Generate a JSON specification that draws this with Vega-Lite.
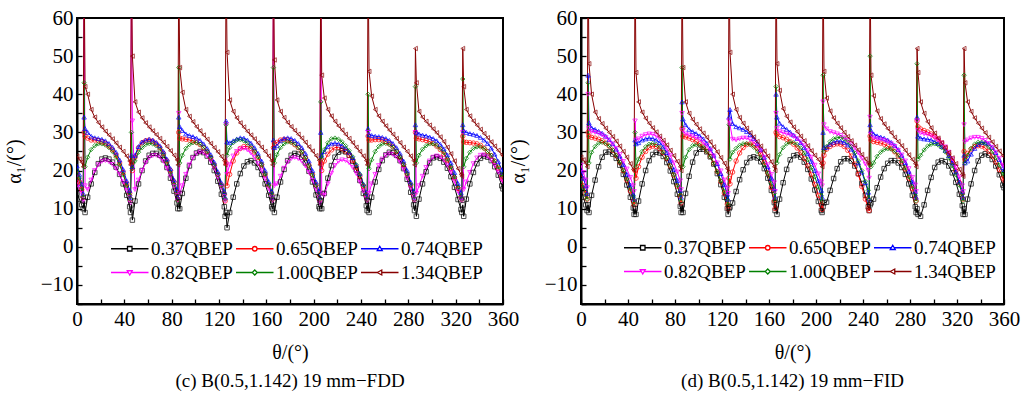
{
"$schema": "https://vega.github.io/schema/vega-lite/v6.json",
"background": "white",
"padding": {"left": 3, "top": 6, "right": 0, "bottom": 0},
"bounds": "flush",
"spacing": 78,
"datasets": {
"keys": [{"k":"a","sh":"A"},{"k":"b","sh":"B"},{"k":"c","sh":"C"},{"k":"d","sh":"D"},{"k":"e","sh":"E"},{"k":"f","sh":"F"}],
"fdd": [
{"t":0,"a":14,"b":19,"c":21.2,"d":17,"e":20,"f":23.8},
{"t":2,"a":12.5,"b":17,"c":19,"d":15.5,"e":18,"f":23},
{"t":4,"a":11,"b":15,"c":16.5,"d":14,"e":15.5,"f":22.2},
{"t":5.2,"a":10,"b":13,"c":14,"d":12,"e":13,"f":21},
{"t":6,"a":12,"b":30,"c":34,"d":75,"e":43,"f":75},
{"t":6.8,"a":9,"b":29,"c":31,"d":16,"e":21,"f":42},
{"t":9,"a":13,"b":28.5,"c":30,"d":15,"e":23.5,"f":40},
{"t":12,"a":16.5,"b":28,"c":29,"d":17.5,"e":25.5,"f":36},
{"t":15,"a":19.5,"b":28,"c":28.6,"d":20,"e":26.5,"f":34},
{"t":18,"a":21.8,"b":27.8,"c":28.4,"d":21.5,"e":27,"f":32.6},
{"t":21,"a":23,"b":27.5,"c":28.2,"d":22.4,"e":27,"f":31.4},
{"t":24,"a":23.3,"b":27.1,"c":27.8,"d":22.6,"e":26.7,"f":30.3},
{"t":27,"a":23,"b":26.4,"c":27.1,"d":22.3,"e":26,"f":29.3},
{"t":30,"a":22.2,"b":25.4,"c":26.1,"d":21.6,"e":25,"f":28.3},
{"t":33,"a":20.9,"b":24,"c":24.8,"d":20.5,"e":23.5,"f":27.2},
{"t":36,"a":19,"b":22,"c":22.8,"d":19,"e":21.5,"f":26.1},
{"t":39,"a":16.5,"b":19.5,"c":20.3,"d":17,"e":19,"f":25},
{"t":42,"a":13.5,"b":16.5,"c":17.3,"d":14.8,"e":16,"f":23.8},
{"t":44.5,"a":10.5,"b":14,"c":14.8,"d":13,"e":13.5,"f":22.5},
{"t":45.2,"a":9,"b":12.5,"c":13,"d":11.5,"e":12.5,"f":21.5},
{"t":46,"a":11,"b":22,"c":24,"d":75,"e":30,"f":75},
{"t":46.8,"a":7,"b":20,"c":21,"d":33,"e":20.5,"f":50},
{"t":49,"a":12,"b":23.5,"c":24,"d":15,"e":22.5,"f":38},
{"t":52,"a":16.5,"b":26,"c":26.3,"d":17.5,"e":24.8,"f":35.3},
{"t":55,"a":20,"b":27.3,"c":27.5,"d":20,"e":26,"f":33.8},
{"t":58,"a":22.5,"b":27.8,"c":28,"d":22,"e":26.8,"f":32.5},
{"t":61,"a":24,"b":28,"c":28.2,"d":23.3,"e":27.1,"f":31.4},
{"t":64,"a":24.5,"b":27.7,"c":28,"d":23.9,"e":27,"f":30.4},
{"t":67,"a":24.5,"b":27,"c":27.4,"d":24,"e":26.5,"f":29.4},
{"t":70,"a":24,"b":26,"c":26.5,"d":23.5,"e":25.6,"f":28.4},
{"t":73,"a":22.8,"b":24.5,"c":25,"d":22.4,"e":24.1,"f":27.4},
{"t":76,"a":20.8,"b":22.5,"c":23,"d":20.6,"e":22,"f":26.3},
{"t":79,"a":18,"b":20,"c":20.5,"d":18.4,"e":19.4,"f":25.2},
{"t":82,"a":14.6,"b":17,"c":17.5,"d":15.8,"e":16.4,"f":24},
{"t":84.5,"a":11.5,"b":14.3,"c":15,"d":13.5,"e":14,"f":22.8},
{"t":85.2,"a":10,"b":12.5,"c":13,"d":12,"e":12,"f":21.5},
{"t":86,"a":13,"b":30,"c":34,"d":35,"e":47,"f":75},
{"t":86.8,"a":10,"b":28.5,"c":31.5,"d":14,"e":22,"f":47},
{"t":89,"a":14,"b":28.3,"c":30.5,"d":16,"e":24,"f":40.5},
{"t":92,"a":18,"b":28.2,"c":29.6,"d":19,"e":25.8,"f":36},
{"t":95,"a":21.2,"b":28,"c":29.2,"d":21.5,"e":26.8,"f":34.2},
{"t":98,"a":23.4,"b":27.8,"c":28.9,"d":23.3,"e":27.3,"f":32.8},
{"t":101,"a":24.6,"b":27.4,"c":28.5,"d":24.4,"e":27.3,"f":31.5},
{"t":104,"a":25,"b":26.8,"c":27.9,"d":24.8,"e":26.9,"f":30.4},
{"t":107,"a":24.7,"b":26,"c":27,"d":24.6,"e":26.1,"f":29.3},
{"t":110,"a":23.8,"b":24.9,"c":25.8,"d":23.8,"e":25,"f":28.2},
{"t":113,"a":22.2,"b":23.4,"c":24.2,"d":22.5,"e":23.5,"f":27.1},
{"t":116,"a":20,"b":21.4,"c":22.2,"d":20.6,"e":21.4,"f":26},
{"t":119,"a":17.2,"b":19,"c":19.7,"d":18.2,"e":18.9,"f":24.9},
{"t":122,"a":13.8,"b":16.2,"c":16.8,"d":15.5,"e":16,"f":23.7},
{"t":124.5,"a":10.5,"b":13.8,"c":14.5,"d":13.2,"e":13.8,"f":22.6},
{"t":125.2,"a":8,"b":12,"c":13,"d":12,"e":12.5,"f":21.5},
{"t":126,"a":9,"b":22,"c":33,"d":32,"e":32,"f":75},
{"t":126.8,"a":5,"b":16,"c":27.5,"d":19,"e":24,"f":51},
{"t":129,"a":9,"b":19,"c":27.3,"d":21.5,"e":26,"f":38.5},
{"t":132,"a":13,"b":22.5,"c":27.8,"d":23.8,"e":27.3,"f":35.5},
{"t":135,"a":16.5,"b":24.6,"c":28.3,"d":25,"e":28,"f":33.8},
{"t":138,"a":19.2,"b":25.8,"c":28.6,"d":25.6,"e":28.1,"f":32.5},
{"t":141,"a":21.2,"b":26.3,"c":28.5,"d":25.8,"e":27.8,"f":31.4},
{"t":144,"a":22.3,"b":26.3,"c":28,"d":25.4,"e":27.2,"f":30.3},
{"t":147,"a":22.6,"b":25.8,"c":27.2,"d":24.6,"e":26.3,"f":29.3},
{"t":150,"a":22,"b":24.8,"c":26,"d":23.4,"e":25.1,"f":28.3},
{"t":153,"a":20.8,"b":23.4,"c":24.5,"d":21.8,"e":23.6,"f":27.2},
{"t":156,"a":19,"b":21.5,"c":22.5,"d":20,"e":21.6,"f":26.1},
{"t":159,"a":16.5,"b":19,"c":20,"d":17.8,"e":19.1,"f":25},
{"t":162,"a":13.5,"b":16.2,"c":17.1,"d":15.2,"e":16.2,"f":23.8},
{"t":164.5,"a":10.5,"b":13.8,"c":14.6,"d":13,"e":13.8,"f":22.6},
{"t":165.2,"a":10,"b":12.5,"c":13,"d":12,"e":12.5,"f":21.5},
{"t":166,"a":12,"b":26,"c":28,"d":75,"e":47,"f":75},
{"t":166.8,"a":9,"b":27,"c":26,"d":16,"e":22,"f":49},
{"t":169,"a":13,"b":27.4,"c":26.5,"d":16.5,"e":24.2,"f":38.5},
{"t":172,"a":17,"b":28,"c":27.8,"d":18.5,"e":26,"f":35.5},
{"t":175,"a":20.3,"b":28.2,"c":28.4,"d":20.6,"e":27,"f":33.9},
{"t":178,"a":22.6,"b":28,"c":28.6,"d":22.2,"e":27.5,"f":32.6},
{"t":181,"a":24,"b":27.5,"c":28.4,"d":23.1,"e":27.4,"f":31.5},
{"t":184,"a":24.5,"b":26.8,"c":27.9,"d":23.4,"e":26.9,"f":30.5},
{"t":187,"a":24.3,"b":26,"c":27.1,"d":23.1,"e":26,"f":29.5},
{"t":190,"a":23.5,"b":24.9,"c":26,"d":22.4,"e":24.9,"f":28.5},
{"t":193,"a":22,"b":23.4,"c":24.5,"d":21.2,"e":23.4,"f":27.4},
{"t":196,"a":19.8,"b":21.4,"c":22.5,"d":19.5,"e":21.3,"f":26.2},
{"t":199,"a":17,"b":19,"c":20,"d":17.4,"e":18.8,"f":25.1},
{"t":202,"a":13.6,"b":16.2,"c":17,"d":15,"e":16,"f":23.9},
{"t":204.5,"a":10.5,"b":13.8,"c":14.6,"d":13,"e":13.7,"f":22.7},
{"t":205.2,"a":10,"b":12.5,"c":13,"d":11.5,"e":12.5,"f":21.5},
{"t":206,"a":12,"b":22,"c":30,"d":75,"e":38,"f":75},
{"t":206.8,"a":10,"b":20,"c":24,"d":14,"e":23,"f":45},
{"t":209,"a":14,"b":22.5,"c":25,"d":13.5,"e":25.5,"f":39},
{"t":212,"a":18,"b":24.3,"c":26.3,"d":16.5,"e":27.3,"f":36},
{"t":215,"a":21.3,"b":25.4,"c":27,"d":19.3,"e":28.3,"f":34.3},
{"t":218,"a":23.5,"b":26,"c":27.2,"d":21.3,"e":28.5,"f":32.9},
{"t":221,"a":24.8,"b":26.1,"c":27,"d":22.4,"e":28.2,"f":31.7},
{"t":224,"a":25.2,"b":25.7,"c":26.5,"d":22.8,"e":27.5,"f":30.6},
{"t":227,"a":24.9,"b":25,"c":25.8,"d":22.6,"e":26.5,"f":29.5},
{"t":230,"a":24,"b":24,"c":24.8,"d":22,"e":25.2,"f":28.4},
{"t":233,"a":22.4,"b":22.6,"c":23.4,"d":20.8,"e":23.6,"f":27.3},
{"t":236,"a":20.2,"b":20.8,"c":21.5,"d":19.2,"e":21.5,"f":26.1},
{"t":239,"a":17.4,"b":18.5,"c":19.2,"d":17,"e":19,"f":25},
{"t":242,"a":14,"b":15.8,"c":16.5,"d":14.6,"e":16.2,"f":23.8},
{"t":244.5,"a":10.8,"b":13.5,"c":14.3,"d":12.8,"e":13.8,"f":22.6},
{"t":245.2,"a":9.5,"b":12.5,"c":13,"d":12,"e":12.5,"f":21.5},
{"t":246,"a":12,"b":29,"c":31,"d":30,"e":40,"f":75},
{"t":246.8,"a":9,"b":28,"c":29.5,"d":14,"e":20.5,"f":46},
{"t":249,"a":13,"b":28,"c":29.2,"d":16.5,"e":22.8,"f":39.5},
{"t":252,"a":17,"b":28.1,"c":29,"d":19,"e":25,"f":36},
{"t":255,"a":20.3,"b":28.1,"c":28.9,"d":21.3,"e":26.3,"f":34.3},
{"t":258,"a":22.6,"b":28,"c":28.7,"d":23,"e":27,"f":32.9},
{"t":261,"a":24.1,"b":27.6,"c":28.4,"d":24,"e":27.1,"f":31.7},
{"t":264,"a":24.8,"b":27,"c":27.9,"d":24.4,"e":26.8,"f":30.6},
{"t":267,"a":24.7,"b":26.2,"c":27.1,"d":24.2,"e":26.1,"f":29.5},
{"t":270,"a":24,"b":25,"c":26,"d":23.5,"e":25.1,"f":28.4},
{"t":273,"a":22.6,"b":23.5,"c":24.5,"d":22.2,"e":23.6,"f":27.3},
{"t":276,"a":20.5,"b":21.5,"c":22.5,"d":20.3,"e":21.6,"f":26.1},
{"t":279,"a":17.7,"b":19,"c":20,"d":18,"e":19.1,"f":25},
{"t":282,"a":14.3,"b":16.2,"c":17,"d":15.4,"e":16.3,"f":23.8},
{"t":284.5,"a":11,"b":13.8,"c":14.6,"d":13.2,"e":14,"f":22.6},
{"t":285.2,"a":9.5,"b":12.5,"c":13,"d":12,"e":12.5,"f":21.5},
{"t":286,"a":11,"b":30,"c":32,"d":30,"e":42,"f":52},
{"t":286.8,"a":8,"b":28.5,"c":30,"d":14,"e":22,"f":43},
{"t":289,"a":12.5,"b":28.3,"c":29.6,"d":16,"e":24,"f":35.5},
{"t":292,"a":16.5,"b":28.1,"c":29.3,"d":18.5,"e":25.6,"f":34},
{"t":295,"a":19.7,"b":27.9,"c":29.1,"d":20.8,"e":26.5,"f":32.9},
{"t":298,"a":22,"b":27.6,"c":28.8,"d":22.5,"e":27,"f":31.9},
{"t":301,"a":23.3,"b":27.1,"c":28.4,"d":23.5,"e":27,"f":30.9},
{"t":304,"a":23.6,"b":26.4,"c":27.8,"d":23.8,"e":26.6,"f":29.9},
{"t":307,"a":23.2,"b":25.5,"c":26.9,"d":23.5,"e":25.8,"f":28.8},
{"t":310,"a":22.2,"b":24.3,"c":25.7,"d":22.7,"e":24.7,"f":27.6},
{"t":313,"a":20.6,"b":22.7,"c":24.1,"d":21.4,"e":23.1,"f":26.1},
{"t":316,"a":18.4,"b":20.6,"c":22,"d":19.5,"e":21,"f":24.4},
{"t":319,"a":15.6,"b":18.1,"c":19.5,"d":17.1,"e":18.4,"f":22.5},
{"t":322,"a":12.4,"b":15.3,"c":16.6,"d":14.5,"e":15.6,"f":20.5},
{"t":324.5,"a":9.8,"b":13,"c":14.2,"d":12.5,"e":13.3,"f":19},
{"t":325.2,"a":9,"b":12.5,"c":13,"d":12,"e":12.5,"f":18.5},
{"t":326,"a":11,"b":29,"c":32,"d":30,"e":44,"f":52},
{"t":326.8,"a":8,"b":27.5,"c":30.5,"d":15,"e":21,"f":42},
{"t":329,"a":12.5,"b":27.4,"c":30,"d":17,"e":23.2,"f":36},
{"t":332,"a":16.5,"b":27.3,"c":29.7,"d":19.5,"e":24.8,"f":34.3},
{"t":335,"a":19.5,"b":27.2,"c":29.5,"d":21.8,"e":25.8,"f":33},
{"t":338,"a":21.8,"b":27,"c":29.2,"d":23.3,"e":26.2,"f":31.9},
{"t":341,"a":23.2,"b":26.6,"c":28.7,"d":24,"e":26.2,"f":30.8},
{"t":344,"a":23.8,"b":25.9,"c":28,"d":24.1,"e":25.8,"f":29.7},
{"t":347,"a":23.5,"b":25,"c":27.1,"d":23.6,"e":25,"f":28.6},
{"t":350,"a":22.6,"b":23.9,"c":25.9,"d":22.7,"e":24,"f":27.5},
{"t":353,"a":21,"b":22.4,"c":24.3,"d":21.3,"e":22.6,"f":26.4},
{"t":356,"a":18.8,"b":20.6,"c":22.4,"d":19.6,"e":21,"f":25.3},
{"t":359,"a":16,"b":18.5,"c":20.2,"d":17.6,"e":19,"f":24.2},
{"t":360,"a":15.2,"b":17.8,"c":19.5,"d":17,"e":18.5,"f":23.9}
],
"fid": [
{"t":0,"a":15,"b":18,"c":20,"d":21.4,"e":17.5,"f":23.5},
{"t":2,"a":13,"b":16,"c":18,"d":19.5,"e":15.5,"f":22.8},
{"t":4,"a":11,"b":14,"c":16,"d":17.5,"e":13.5,"f":22},
{"t":5.2,"a":9.5,"b":12.5,"c":14,"d":15.5,"e":12.5,"f":21},
{"t":6,"a":11,"b":30,"c":45,"d":40,"e":43,"f":75},
{"t":6.8,"a":9,"b":29,"c":32.5,"d":31,"e":22,"f":48},
{"t":9,"a":13.5,"b":28.7,"c":31.2,"d":30.2,"e":24.8,"f":40},
{"t":12,"a":17.5,"b":28.5,"c":30.8,"d":30,"e":26.3,"f":35.3},
{"t":15,"a":21,"b":28.2,"c":30.3,"d":29.7,"e":27.2,"f":33.6},
{"t":18,"a":23.5,"b":27.8,"c":29.8,"d":29.3,"e":27.4,"f":32.3},
{"t":21,"a":24.8,"b":27.2,"c":29,"d":28.7,"e":27.1,"f":31.1},
{"t":24,"a":24.9,"b":26.4,"c":28.1,"d":28,"e":26.4,"f":30},
{"t":27,"a":24.3,"b":25.3,"c":27,"d":27,"e":25.4,"f":28.9},
{"t":30,"a":23.2,"b":23.9,"c":25.6,"d":25.8,"e":24,"f":27.7},
{"t":33,"a":21.4,"b":22.1,"c":23.8,"d":24.2,"e":22.2,"f":26.4},
{"t":36,"a":19,"b":20,"c":21.6,"d":22.4,"e":20.1,"f":25},
{"t":39,"a":16.2,"b":17.5,"c":19,"d":20.4,"e":17.8,"f":23.5},
{"t":42,"a":13,"b":14.6,"c":16.2,"d":18.2,"e":15.2,"f":21.8},
{"t":44.5,"a":10.2,"b":12,"c":13.8,"d":16,"e":13,"f":20.3},
{"t":45.2,"a":8.5,"b":11,"c":12.5,"d":14.5,"e":11.5,"f":20},
{"t":46,"a":10,"b":20,"c":28,"d":33,"e":30,"f":75},
{"t":46.8,"a":8.5,"b":18,"c":27,"d":28,"e":21,"f":45.7},
{"t":49,"a":12,"b":21,"c":27.3,"d":28.3,"e":23,"f":38},
{"t":52,"a":16.5,"b":23.5,"c":28,"d":29,"e":25,"f":35.3},
{"t":55,"a":20,"b":25,"c":28.3,"d":29.4,"e":26.2,"f":33.7},
{"t":58,"a":22.6,"b":26,"c":28.5,"d":29.6,"e":26.9,"f":32.4},
{"t":61,"a":24.2,"b":26.4,"c":28.4,"d":29.5,"e":27.1,"f":31.2},
{"t":64,"a":24.8,"b":26.3,"c":28,"d":29.1,"e":26.8,"f":30.1},
{"t":67,"a":24.6,"b":25.7,"c":27.3,"d":28.3,"e":26.1,"f":29},
{"t":70,"a":23.7,"b":24.7,"c":26.2,"d":27.2,"e":24.9,"f":27.9},
{"t":73,"a":22.1,"b":23.2,"c":24.7,"d":25.7,"e":23.3,"f":26.7},
{"t":76,"a":19.9,"b":21.2,"c":22.7,"d":24,"e":21.3,"f":25.3},
{"t":79,"a":17.1,"b":18.8,"c":20.3,"d":22,"e":18.9,"f":23.9},
{"t":82,"a":13.8,"b":15.9,"c":17.4,"d":19.6,"e":16.1,"f":22.4},
{"t":84.5,"a":10.6,"b":13.3,"c":14.8,"d":17.3,"e":13.6,"f":21},
{"t":85.2,"a":9,"b":11.5,"c":13,"d":15,"e":12,"f":20},
{"t":86,"a":11,"b":31,"c":38,"d":35,"e":47,"f":75},
{"t":86.8,"a":9,"b":29,"c":33.5,"d":30.5,"e":21,"f":47},
{"t":89,"a":14,"b":28.8,"c":32,"d":29.6,"e":23.5,"f":38},
{"t":92,"a":18.5,"b":28.5,"c":30.8,"d":29.3,"e":25.5,"f":35},
{"t":95,"a":22.2,"b":28.1,"c":30.2,"d":29,"e":26.5,"f":33.4},
{"t":98,"a":24.6,"b":27.6,"c":29.7,"d":28.6,"e":26.8,"f":32.1},
{"t":101,"a":25.6,"b":27,"c":29.1,"d":28.1,"e":26.6,"f":30.9},
{"t":104,"a":25.6,"b":26.2,"c":28.3,"d":27.4,"e":26,"f":29.8},
{"t":107,"a":24.9,"b":25.1,"c":27.2,"d":26.5,"e":25,"f":28.7},
{"t":110,"a":23.6,"b":23.7,"c":25.8,"d":25.3,"e":23.6,"f":27.5},
{"t":113,"a":21.7,"b":21.9,"c":24,"d":23.8,"e":21.8,"f":26.2},
{"t":116,"a":19.2,"b":19.7,"c":21.8,"d":22,"e":19.7,"f":24.9},
{"t":119,"a":16.3,"b":17.1,"c":19.2,"d":19.9,"e":17.3,"f":23.4},
{"t":122,"a":13,"b":14.1,"c":16.3,"d":17.5,"e":14.6,"f":21.9},
{"t":124.5,"a":10,"b":11.2,"c":13.8,"d":15.3,"e":12.2,"f":20.5},
{"t":125.2,"a":8.5,"b":10,"c":12.5,"d":14,"e":11,"f":19.5},
{"t":126,"a":10,"b":18,"c":34,"d":33,"e":32,"f":75},
{"t":126.8,"a":10.4,"b":16.5,"c":36,"d":32,"e":23,"f":51},
{"t":129,"a":11.5,"b":19.6,"c":32.3,"d":28.2,"e":24.8,"f":40},
{"t":132,"a":14.5,"b":22.5,"c":31.5,"d":28,"e":25.8,"f":36},
{"t":135,"a":17.6,"b":24.6,"c":31.2,"d":28.3,"e":26.6,"f":33.9},
{"t":138,"a":20.2,"b":26,"c":30.8,"d":28.5,"e":27,"f":32.4},
{"t":141,"a":22.1,"b":26.8,"c":30.2,"d":28.5,"e":27.1,"f":31.1},
{"t":144,"a":23.3,"b":27,"c":29.4,"d":28.1,"e":26.8,"f":29.9},
{"t":147,"a":23.6,"b":26.7,"c":28.4,"d":27.5,"e":26.1,"f":28.8},
{"t":150,"a":23.3,"b":25.8,"c":27.1,"d":26.5,"e":25,"f":27.6},
{"t":153,"a":22.3,"b":24.3,"c":25.5,"d":25.2,"e":23.5,"f":26.4},
{"t":156,"a":20.5,"b":22.2,"c":23.5,"d":23.5,"e":21.6,"f":25.1},
{"t":159,"a":18,"b":19.3,"c":21,"d":21.5,"e":19.3,"f":23.8},
{"t":162,"a":14.8,"b":15.6,"c":18,"d":19,"e":16.6,"f":22.3},
{"t":164.5,"a":11.6,"b":12,"c":15.3,"d":16.8,"e":14,"f":21},
{"t":165.2,"a":9.5,"b":10,"c":13,"d":14.5,"e":12,"f":20},
{"t":166,"a":11,"b":30,"c":40,"d":35,"e":42,"f":75},
{"t":166.8,"a":8.5,"b":29.5,"c":34,"d":31,"e":22,"f":48},
{"t":169,"a":12.5,"b":28.9,"c":32.4,"d":30.2,"e":24.2,"f":41},
{"t":172,"a":16.8,"b":28.6,"c":31.5,"d":29.9,"e":26,"f":36.2},
{"t":175,"a":20.3,"b":28.2,"c":30.8,"d":29.6,"e":27,"f":34.2},
{"t":178,"a":22.8,"b":27.6,"c":30.1,"d":29.3,"e":27.4,"f":32.7},
{"t":181,"a":23.9,"b":26.9,"c":29.3,"d":28.9,"e":27.3,"f":31.4},
{"t":184,"a":24.1,"b":25.9,"c":28.4,"d":28.3,"e":26.8,"f":30.2},
{"t":187,"a":23.5,"b":24.7,"c":27.3,"d":27.5,"e":25.9,"f":29},
{"t":190,"a":22.2,"b":23.2,"c":26,"d":26.5,"e":24.6,"f":27.8},
{"t":193,"a":20.3,"b":21.3,"c":24.4,"d":25.2,"e":22.9,"f":26.5},
{"t":196,"a":17.8,"b":19,"c":22.4,"d":23.5,"e":20.8,"f":25.2},
{"t":199,"a":14.9,"b":16.4,"c":20,"d":21.4,"e":18.4,"f":24},
{"t":202,"a":11.9,"b":13.5,"c":17.3,"d":19.1,"e":15.7,"f":22.9},
{"t":204.5,"a":9.5,"b":11,"c":14.8,"d":17,"e":13.4,"f":21.8},
{"t":205.2,"a":9,"b":9.8,"c":13,"d":16,"e":12,"f":21},
{"t":206,"a":10.5,"b":22,"c":30,"d":38,"e":45,"f":75},
{"t":206.8,"a":11.5,"b":24,"c":26,"d":32,"e":25,"f":46},
{"t":209,"a":11.7,"b":25.6,"c":26.1,"d":30.9,"e":26.3,"f":39},
{"t":212,"a":14.8,"b":26.3,"c":26.9,"d":30.2,"e":27.6,"f":35.6},
{"t":215,"a":17.9,"b":26.8,"c":27.4,"d":29.9,"e":28.3,"f":33.8},
{"t":218,"a":20.5,"b":27,"c":27.7,"d":29.6,"e":28.6,"f":32.4},
{"t":221,"a":22.3,"b":26.9,"c":27.7,"d":29.2,"e":28.7,"f":31.2},
{"t":224,"a":23.1,"b":26.3,"c":27.4,"d":28.6,"e":28.3,"f":30},
{"t":227,"a":23.1,"b":25.3,"c":26.7,"d":27.9,"e":27.5,"f":28.9},
{"t":230,"a":22.5,"b":23.8,"c":25.6,"d":27,"e":26.3,"f":27.8},
{"t":233,"a":21.2,"b":21.7,"c":24,"d":25.9,"e":24.6,"f":26.6},
{"t":236,"a":19.2,"b":19,"c":22,"d":24.6,"e":22.5,"f":25.4},
{"t":239,"a":16.6,"b":15.8,"c":19.6,"d":23.2,"e":20,"f":24.2},
{"t":242,"a":13.5,"b":12.5,"c":16.8,"d":21.7,"e":17.2,"f":23},
{"t":244.5,"a":10.5,"b":10,"c":14.3,"d":20,"e":14.8,"f":22},
{"t":245.2,"a":9.5,"b":9.5,"c":12.5,"d":18,"e":12.5,"f":21.5},
{"t":246,"a":11,"b":29,"c":32,"d":34,"e":50,"f":75},
{"t":246.8,"a":11.5,"b":28,"c":30.5,"d":29.5,"e":21,"f":45},
{"t":249,"a":12.5,"b":27.6,"c":29.6,"d":28.5,"e":22,"f":39.6},
{"t":252,"a":15.5,"b":27.4,"c":29.1,"d":28.3,"e":23.7,"f":35.6},
{"t":255,"a":18.3,"b":27.2,"c":28.8,"d":28.1,"e":24.8,"f":33.6},
{"t":258,"a":20.5,"b":26.9,"c":28.5,"d":27.9,"e":25.5,"f":32.2},
{"t":261,"a":21.9,"b":26.4,"c":28,"d":27.5,"e":25.7,"f":31},
{"t":264,"a":22.6,"b":25.8,"c":27.4,"d":27,"e":25.6,"f":29.9},
{"t":267,"a":22.6,"b":24.9,"c":26.6,"d":26.3,"e":25,"f":28.7},
{"t":270,"a":22,"b":23.8,"c":25.5,"d":25.3,"e":24,"f":27.6},
{"t":273,"a":20.8,"b":22.3,"c":24,"d":24.1,"e":22.6,"f":26.5},
{"t":276,"a":19,"b":20.4,"c":22.1,"d":22.5,"e":20.7,"f":25.3},
{"t":279,"a":16.5,"b":18,"c":19.8,"d":20.5,"e":18.4,"f":24.1},
{"t":282,"a":13.5,"b":15.2,"c":17,"d":18.2,"e":15.8,"f":22.9},
{"t":284.5,"a":10.5,"b":12.8,"c":14.5,"d":16.2,"e":13.5,"f":21.8},
{"t":285.2,"a":9,"b":12,"c":13,"d":14.5,"e":12,"f":21},
{"t":286,"a":10,"b":33,"c":34,"d":33,"e":48,"f":52},
{"t":286.8,"a":8.5,"b":31.5,"c":29,"d":30.5,"e":23,"f":45.7},
{"t":289,"a":8,"b":30.9,"c":28.5,"d":29.8,"e":24,"f":38},
{"t":292,"a":11,"b":30.5,"c":28.3,"d":29.6,"e":25.4,"f":35},
{"t":295,"a":14.8,"b":30.1,"c":28.2,"d":29.4,"e":26.4,"f":32.8},
{"t":298,"a":18.2,"b":29.6,"c":28,"d":29.1,"e":26.9,"f":31.2},
{"t":301,"a":20.8,"b":29,"c":27.6,"d":28.6,"e":27,"f":29.8},
{"t":304,"a":22.2,"b":28.2,"c":27.1,"d":28,"e":26.7,"f":28.5},
{"t":307,"a":22.6,"b":27.2,"c":26.3,"d":27.2,"e":26,"f":27.3},
{"t":310,"a":22.3,"b":26,"c":25.3,"d":26.2,"e":24.9,"f":26},
{"t":313,"a":21.2,"b":24.4,"c":23.9,"d":24.8,"e":23.3,"f":24.7},
{"t":316,"a":19.4,"b":22.4,"c":22,"d":23,"e":21.3,"f":23.3},
{"t":319,"a":16.9,"b":19.9,"c":19.7,"d":20.8,"e":18.9,"f":21.8},
{"t":322,"a":13.8,"b":16.8,"c":17,"d":18.3,"e":16.2,"f":20.3},
{"t":324.5,"a":10.8,"b":14,"c":14.5,"d":16,"e":13.8,"f":19},
{"t":325.2,"a":8.5,"b":12.5,"c":13,"d":14.5,"e":12,"f":18.5},
{"t":326,"a":10,"b":25,"c":24,"d":32,"e":45,"f":52},
{"t":326.8,"a":8.5,"b":23,"c":22,"d":27.5,"e":22,"f":43},
{"t":329,"a":12.5,"b":24.5,"c":22.5,"d":28,"e":24,"f":38},
{"t":332,"a":16.5,"b":25.6,"c":24.3,"d":28.5,"e":25.8,"f":35.5},
{"t":335,"a":20,"b":26.3,"c":25.8,"d":28.7,"e":26.9,"f":33.8},
{"t":338,"a":22.5,"b":26.5,"c":26.8,"d":28.7,"e":27.4,"f":32.4},
{"t":341,"a":24,"b":26.4,"c":27.3,"d":28.4,"e":27.4,"f":31.1},
{"t":344,"a":24.4,"b":25.9,"c":27.4,"d":27.9,"e":27,"f":29.9},
{"t":347,"a":24,"b":25,"c":27,"d":27.1,"e":26.2,"f":28.7},
{"t":350,"a":22.9,"b":23.8,"c":26.1,"d":26.1,"e":25,"f":27.5},
{"t":353,"a":21.2,"b":22.2,"c":24.7,"d":24.8,"e":23.4,"f":26.3},
{"t":356,"a":18.9,"b":20.2,"c":22.9,"d":23.2,"e":21.4,"f":25.1},
{"t":359,"a":16.2,"b":18,"c":20.8,"d":21.4,"e":19.3,"f":24},
{"t":360,"a":15.5,"b":17.5,"c":20.3,"d":21,"e":18.8,"f":23.7}
]
},
"resolve": {"scale": {"color": "independent", "shape": "independent"}, "legend": {"color": "independent", "shape": "independent"}},
"hconcat": [
{
"width": 426, "height": 286,
"data": {"name": "fdd"},
"transform": [{"fold": ["a","b","c","d","e","f"], "as": ["k","v"]}, {"lookup": "k", "from": {"data": {"name": "keys"}, "key": "k", "fields": ["sh"]}}],
"title": {"text": "(c) B(0.5,1.142) 19 mm−FDD", "orient": "bottom", "offset": 10},
"encoding": {
"x": {"field": "t", "type": "quantitative", "scale": {"domain": [0, 360], "nice": false}, "axis": {"title": "θ/(°)", "values": [0,20,40,60,80,100,120,140,160,180,200,220,240,260,280,300,320,340,360], "labelExpr": "datum.value % 40 === 0 ? datum.label : ''"}},
"y": {"field": "v", "type": "quantitative", "scale": {"domain": [-15, 60], "nice": false}, "axis": {"title": "α₁/(°)", "values": [-15,-10,-5,0,5,10,15,20,25,30,35,40,45,50,55,60], "labelExpr": "datum.value % 10 === 0 ? datum.label : ''"}},
"color": {"field": "k", "type": "nominal", "scale": {"domain": ["a","b","c","d","e","f"], "range": ["#000000","#ff0000","#0000ff","#ff00ff","#008000","#880000"]},
"legend": {"title": null, "orient": "none", "legendX": 33, "legendY": 217, "columns": 3, "direction": "horizontal", "labelExpr": "{'a':'0.37QBEP','b':'0.65QBEP','c':'0.74QBEP','d':'0.82QBEP','e':'1.00QBEP','f':'1.34QBEP'}[datum.value]", "symbolSize": 625, "symbolStrokeWidth": 1.3, "labelOffset": 14, "columnPadding": 0, "rowPadding": 0, "padding": 0,
"encode": {"symbols": {"update": {"fill": {"value": "white"}, "shape": {"signal": "datum.value==='a'?'M-1,0H0.32M0.68,0H2M0.32,-0.18H0.68V0.18H0.32Z':datum.value==='b'?'M-1,0H0.32M0.68,0H2M0.68,0A0.18,0.18,0,1,1,0.32,0A0.18,0.18,0,1,1,0.68,0Z':datum.value==='c'?'M-1,0H0.36M0.64,0H2M0.5,-0.2L0.7,0.14H0.3Z':datum.value==='d'?'M-1,0H0.36M0.64,0H2M0.5,0.2L0.7,-0.14H0.3Z':datum.value==='e'?'M-1,0H0.3M0.7,0H2M0.5,-0.2L0.7,0L0.5,0.2L0.3,0Z':'M-1,0H0.3M0.7,0H2M0.3,0L0.66,-0.2V0.2Z'"}}}}}}
},
"layer": [
{"mark": {"type": "line", "strokeWidth": 1, "clip": true}},
{"mark": {"type": "point", "size": 20, "strokeWidth": 1, "filled": false, "clip": true},
"encoding": {"shape": {"field": "sh", "type": "nominal", "scale": {"domain": ["A","B","C","D","E","F"], "range": ["square","circle","triangle-up","triangle-down","diamond","triangle-left"]}, "legend": null}}}
]
},
{
"width": 423, "height": 286,
"data": {"name": "fid"},
"transform": [{"fold": ["a","b","c","d","e","f"], "as": ["k","v"]}, {"lookup": "k", "from": {"data": {"name": "keys"}, "key": "k", "fields": ["sh"]}}],
"title": {"text": "(d) B(0.5,1.142) 19 mm−FID", "orient": "bottom", "offset": 10},
"encoding": {
"x": {"field": "t", "type": "quantitative", "scale": {"domain": [0, 360], "nice": false}, "axis": {"title": "θ/(°)", "values": [0,20,40,60,80,100,120,140,160,180,200,220,240,260,280,300,320,340,360], "labelExpr": "datum.value % 40 === 0 ? datum.label : ''"}},
"y": {"field": "v", "type": "quantitative", "scale": {"domain": [-15, 60], "nice": false}, "axis": {"title": "α₁/(°)", "values": [-15,-10,-5,0,5,10,15,20,25,30,35,40,45,50,55,60], "labelExpr": "datum.value % 10 === 0 ? datum.label : ''"}},
"color": {"field": "k", "type": "nominal", "scale": {"domain": ["a","b","c","d","e","f"], "range": ["#000000","#ff0000","#0000ff","#ff00ff","#008000","#880000"]},
"legend": {"title": null, "orient": "none", "legendX": 42, "legendY": 216, "columns": 3, "direction": "horizontal", "labelExpr": "{'a':'0.37QBEP','b':'0.65QBEP','c':'0.74QBEP','d':'0.82QBEP','e':'1.00QBEP','f':'1.34QBEP'}[datum.value]", "symbolSize": 625, "symbolStrokeWidth": 1.3, "labelOffset": 14, "columnPadding": 0, "rowPadding": 0, "padding": 0,
"encode": {"symbols": {"update": {"fill": {"value": "white"}, "shape": {"signal": "datum.value==='a'?'M-1,0H0.32M0.68,0H2M0.32,-0.18H0.68V0.18H0.32Z':datum.value==='b'?'M-1,0H0.32M0.68,0H2M0.68,0A0.18,0.18,0,1,1,0.32,0A0.18,0.18,0,1,1,0.68,0Z':datum.value==='c'?'M-1,0H0.36M0.64,0H2M0.5,-0.2L0.7,0.14H0.3Z':datum.value==='d'?'M-1,0H0.36M0.64,0H2M0.5,0.2L0.7,-0.14H0.3Z':datum.value==='e'?'M-1,0H0.3M0.7,0H2M0.5,-0.2L0.7,0L0.5,0.2L0.3,0Z':'M-1,0H0.3M0.7,0H2M0.3,0L0.66,-0.2V0.2Z'"}}}}}}
},
"layer": [
{"mark": {"type": "line", "strokeWidth": 1, "clip": true}},
{"mark": {"type": "point", "size": 20, "strokeWidth": 1, "filled": false, "clip": true},
"encoding": {"shape": {"field": "sh", "type": "nominal", "scale": {"domain": ["A","B","C","D","E","F"], "range": ["square","circle","triangle-up","triangle-down","diamond","triangle-left"]}, "legend": null}}}
]
}
],
"config": {
"font": "Liberation Serif",
"view": {"stroke": "black", "strokeWidth": 2},
"axis": {"labelFont": "Liberation Serif", "labelFontSize": 21, "labelColor": "black", "titleFont": "Liberation Serif", "titleFontSize": 20, "titleFontWeight": "normal", "titleColor": "black", "domainColor": "black", "domainWidth": 2, "tickColor": "black", "tickWidth": 1.3, "tickSize": -5, "grid": false, "labelFlush": false, "labelOverlap": false, "labelPadding": 9},
"axisX": {"titlePadding": 13},
"axisY": {"titlePadding": 16},
"legend": {"labelFont": "Liberation Serif", "labelFontSize": 19, "labelColor": "black"},
"title": {"font": "Liberation Serif", "fontSize": 19, "fontWeight": "normal", "color": "black"}
}
}
